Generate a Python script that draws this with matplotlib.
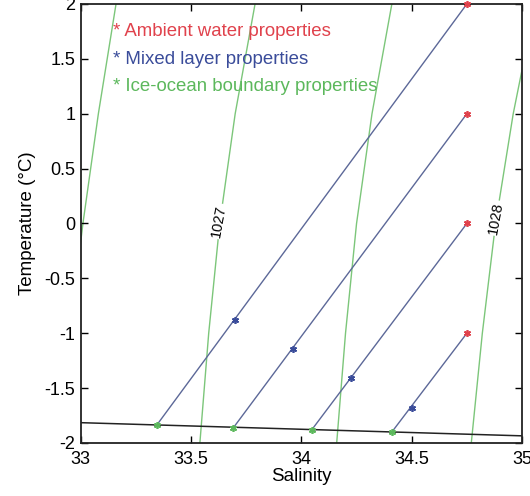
import numpy as np
import matplotlib
matplotlib.use("Agg")
import matplotlib.pyplot as plt

plt.rcParams['font.family'] = ['Liberation Sans', 'DejaVu Sans']

# isopycnals: salinity read at T = -2, -1, 0, 1, 2
iso_T = [-2, -1, 0, 1, 2]
iso_1026_5 = [32.92, 32.95, 33.01, 33.08, 33.16]
iso_1027 = [33.54, 33.58, 33.63, 33.70, 33.79]
iso_1027_5 = [34.16, 34.20, 34.25, 34.32, 34.41]
iso_1028 = [34.77, 34.82, 34.88, 34.96, 35.06]

# freezing line
frz_S = [33.0, 35.0]
frz_T = [-1.815, -1.935]

# ambient water
amb_S = [34.75, 34.75, 34.75, 34.75]
amb_T = [2.0, 1.0, 0.0, -1.0]
# mixed layer
mix_S = [33.70, 33.96, 34.225, 34.50]
mix_T = [-0.88, -1.145, -1.41, -1.68]
# ice-ocean boundary
ice_S = [33.345, 33.69, 34.047, 34.41]
ice_T = [-1.836, -1.866, -1.88, -1.90]

red = '#e0424c'
blue = '#3a4c9a'
green = '#5cb85c'
gline = '#7cc67a'
mline = '#5c6898'

fig = plt.figure(figsize=(5.30, 4.96), dpi=100)
ax = fig.add_axes([0.1523, 0.1069, 0.8327, 0.8851])

for s in [iso_1026_5, iso_1027, iso_1027_5, iso_1028]:
    ax.plot(s, iso_T, color=gline, lw=1.0, zorder=1)

ax.plot(frz_S, frz_T, color='#222222', lw=1.1, zorder=2)

for i in range(len(amb_S)):
    ax.plot([amb_S[i], ice_S[i]], [amb_T[i], ice_T[i]], color=mline, lw=1.0, zorder=3)

ast = (6, 2, 0)
ax.plot(amb_S, amb_T, ls='none', marker=ast, ms=5, mec=red, mew=1.2, zorder=4, clip_on=False)
ax.plot(mix_S, mix_T, ls='none', marker=ast, ms=5, mec=blue, mew=1.2, zorder=4)
ax.plot(ice_S, ice_T, ls='none', marker=ast, ms=5, mec=green, mew=1.2, zorder=4)

# contour labels
ax.text(33.627, 0.02, '1027', rotation=80, ha='center', va='center', fontsize=10.5,
        bbox=dict(facecolor='white', edgecolor='none', pad=1), zorder=2)
ax.text(34.88, 0.05, '1028', rotation=80, ha='center', va='center', fontsize=10.5,
        bbox=dict(facecolor='white', edgecolor='none', pad=1), zorder=2)

# legend texts
ax.text(33.145, 1.745, '* Ambient water properties', color=red, fontsize=13.4, va='center')
ax.text(33.145, 1.49, '* Mixed layer properties', color=blue, fontsize=13.4, va='center')
ax.text(33.145, 1.245, '* Ice-ocean boundary properties', color=green, fontsize=13.4, va='center')

ax.set_xlim(33, 35)
ax.set_ylim(-2, 2)
ax.set_xticks([33, 33.5, 34, 34.5, 35])
ax.set_xticklabels(['33', '33.5', '34', '34.5', '35'])
ax.set_yticks(np.arange(-2, 2.01, 0.5))
ax.set_yticklabels(['-2', '-1.5', '-1', '-0.5', '0', '0.5', '1', '1.5', '2'])
ax.tick_params(direction='in', top=True, right=True, length=5, width=1, labelsize=13)
ax.tick_params(axis='x', pad=6)
ax.tick_params(axis='y', pad=4)
for sp in ax.spines.values():
    sp.set_linewidth(1.3)
    sp.set_color('#222222')

ax.set_xlabel('Salinity', fontsize=13.5, labelpad=0)
ax.set_ylabel('Temperature (°C)', fontsize=13.5, labelpad=6)

fig.savefig('out.png', dpi=100)
